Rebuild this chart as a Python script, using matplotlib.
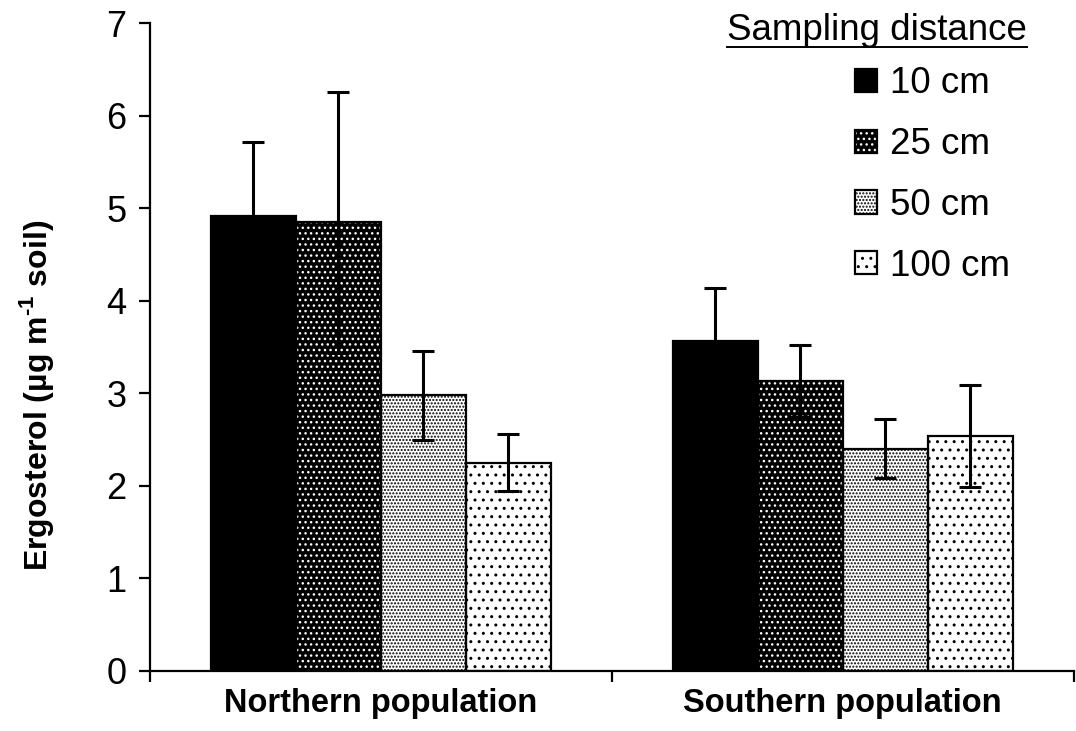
import numpy as np
import matplotlib
matplotlib.use("Agg")
import matplotlib.pyplot as plt
from matplotlib.lines import Line2D

plt.rcParams['font.family'] = ['Liberation Sans', 'DejaVu Sans']
plt.rcParams['mathtext.fontset'] = 'custom'
plt.rcParams['mathtext.rm'] = 'Liberation Sans:bold'
plt.rcParams['mathtext.bf'] = 'Liberation Sans:bold'
plt.rcParams['hatch.linewidth'] = 1.0

# data
populations = ["Northern population", "Southern population"]
distances = ["10 cm", "25 cm", "50 cm", "100 cm"]
means = {
    "10 cm": [4.92, 3.56],
    "25 cm": [4.85, 3.13],
    "50 cm": [2.98, 2.40],
    "100 cm": [2.25, 2.54],
}
errors = {
    "10 cm": [0.79, 0.58],
    "25 cm": [1.41, 0.39],
    "50 cm": [0.48, 0.32],
    "100 cm": [0.31, 0.55],
}

# styles: (face, hatch, hatch colour)
styles = {
    "10 cm": ("black", None, "black"),
    "25 cm": ("black", "...", "white"),
    "50 cm": ("white", ".....", "black"),
    "100 cm": ("white", "..", "black"),
}

fig = plt.figure(figsize=(10.76, 7.31), dpi=100)
ax = fig.add_axes([0.1394, 0.0821, 0.8584, 0.8864])

x = np.arange(len(populations))
width = 0.184
handles = []
for i, d in enumerate(distances):
    pos = x + (i - 1.5) * width
    face, hatch, hcol = styles[d]
    fill = ax.bar(pos, means[d], width, color=face, hatch=hatch,
                  edgecolor=hcol, linewidth=0, zorder=2)
    outline = ax.bar(pos, means[d], width, fill=False, edgecolor="black",
                     linewidth=1.6, zorder=3)
    ax.errorbar(pos, means[d], yerr=errors[d], fmt="none", ecolor="black",
                elinewidth=2.2, capsize=8, capthick=2.2, zorder=4)
    handles.append((fill[0], outline[0]))

ax.set_xlim(-0.5, 1.5)
ax.set_ylim(0, 7)
ax.set_yticks(range(0, 8))
ax.tick_params(axis='y', labelsize=26, length=8, width=1.6, pad=9)

ax.set_xticks([-0.5, 0.5, 1.5])
ax.set_xticklabels([])
ax.tick_params(axis='x', which='major', length=8, width=1.6)
ax.set_xticks(x, minor=True)
ax.set_xticklabels(populations, minor=True, fontsize=23.5, fontweight='bold')
ax.tick_params(axis='x', which='minor', length=0, pad=12)

for s in ['top', 'right']:
    ax.spines[s].set_visible(False)
for s in ['left', 'bottom']:
    ax.spines[s].set_linewidth(1.6)

ax.set_ylabel(r"Ergosterol (µg m$^{\text{-1}}$ soil)", fontsize=23,
              fontweight='bold')
ax.yaxis.set_label_coords(-0.102, 0.426)

leg = ax.legend(handles, distances, loc='upper left',
                bbox_to_anchor=(0.763, 0.933), frameon=False, fontsize=26.5,
                handlelength=0.6, handleheight=0.6, handletextpad=0.35,
                labelspacing=0.7, borderaxespad=0, borderpad=0)

title = fig.text(0.815, 0.958, "Sampling distance", fontsize=26.5,
                 ha='center', va='center')
fig.canvas.draw()
bb = title.get_window_extent().transformed(fig.transFigure.inverted())
fig.add_artist(Line2D([bb.x0, bb.x1], [bb.y0 + 0.001, bb.y0 + 0.001],
                      color='black', linewidth=1.4,
                      transform=fig.transFigure))

fig.savefig("out.png", dpi=100)
